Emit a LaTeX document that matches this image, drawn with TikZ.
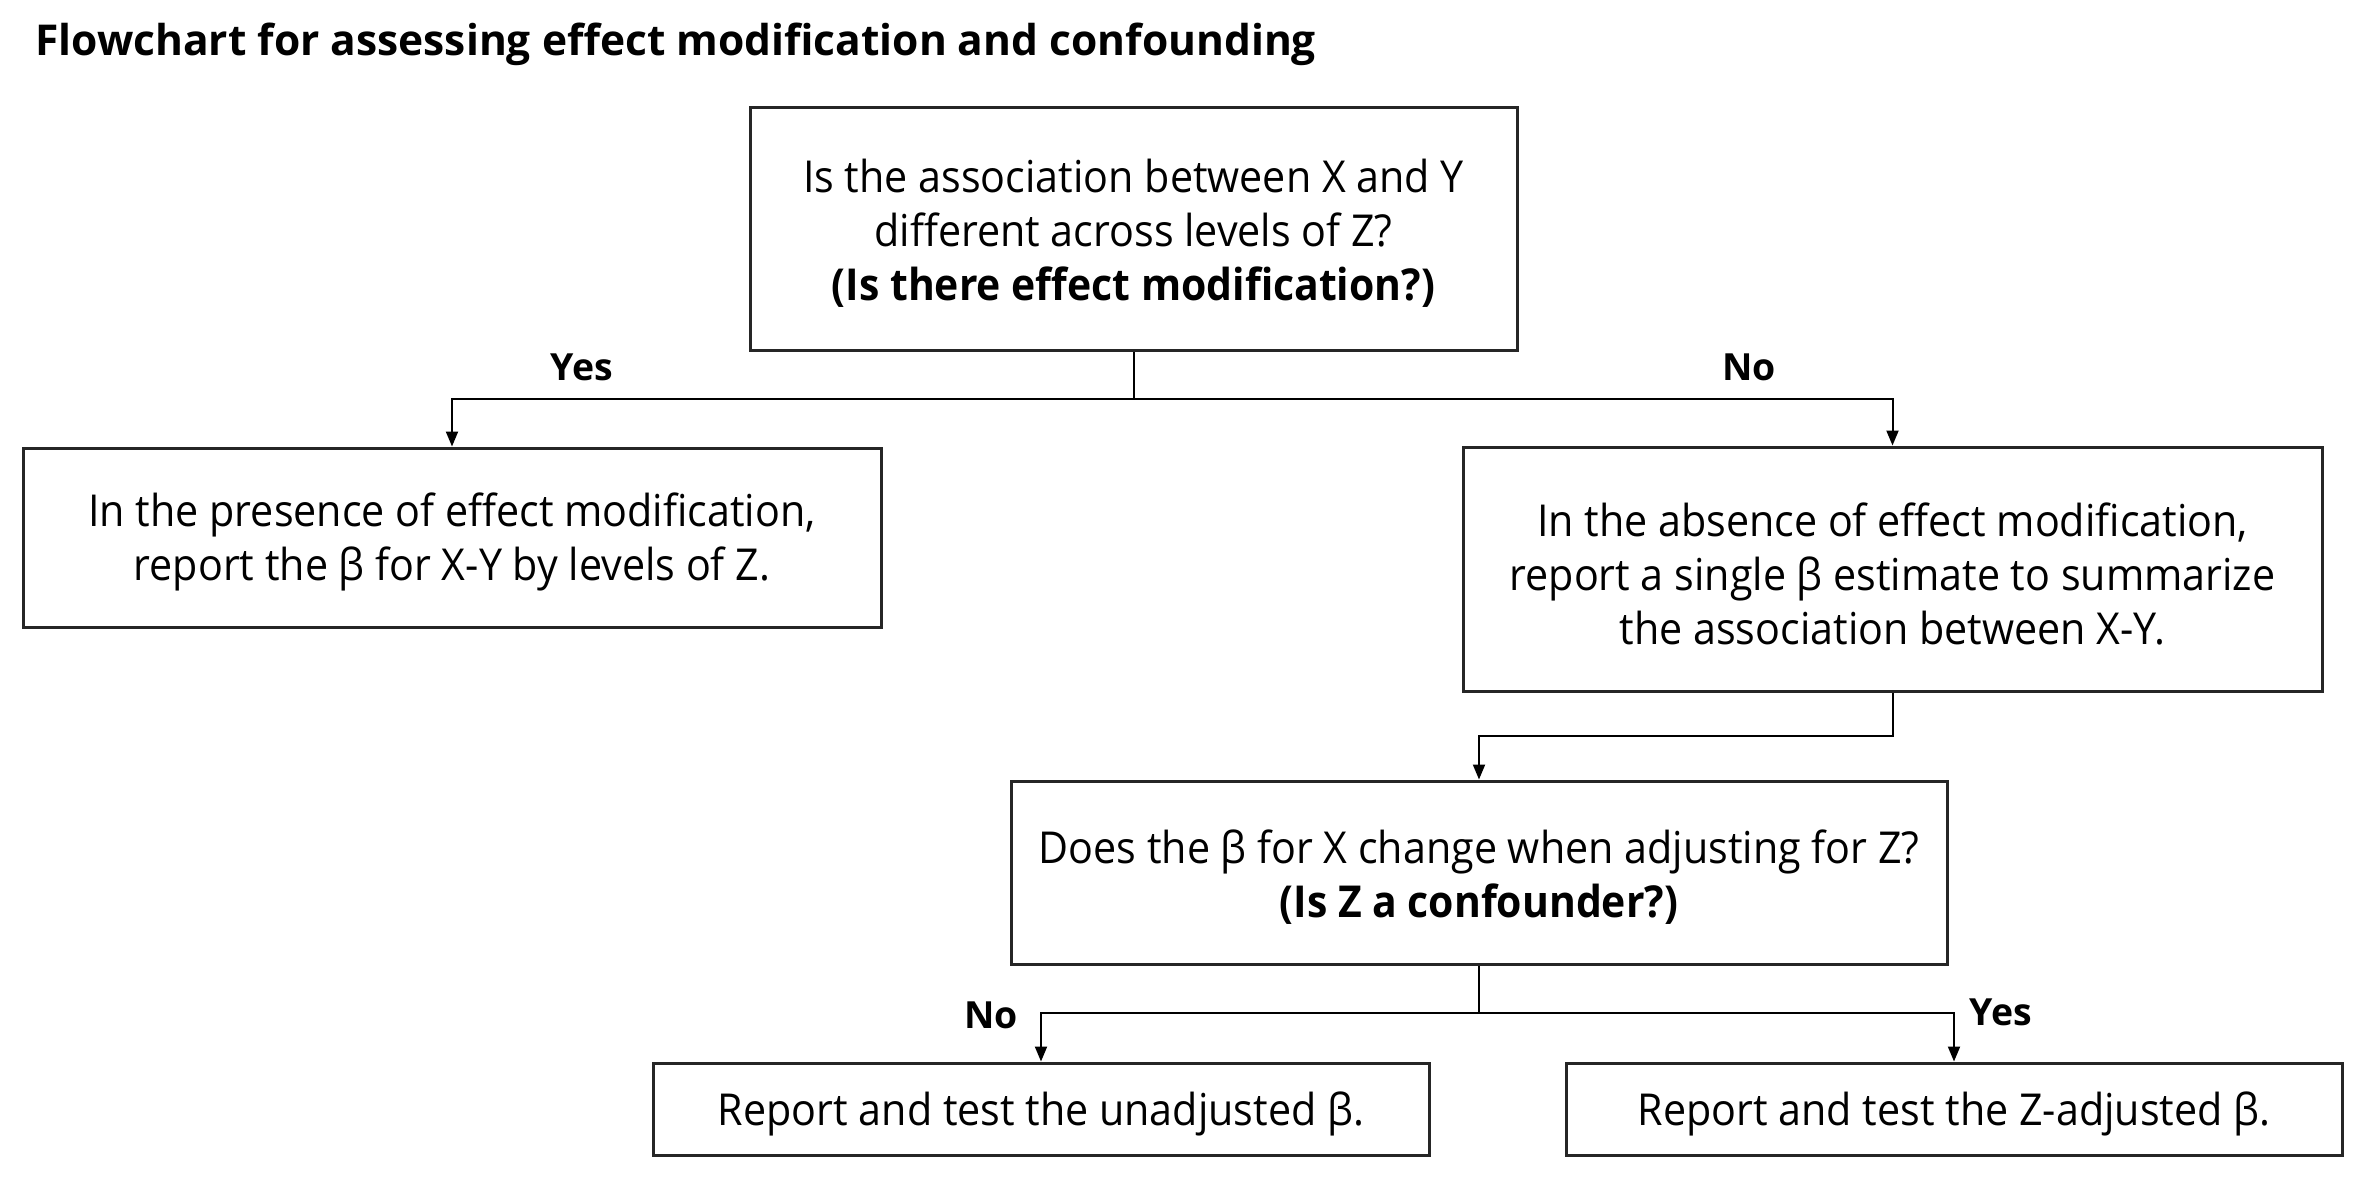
\documentclass[tikz,border=0pt]{standalone}
\usepackage{fontspec}
\setmainfont{Open Sans}[FakeStretch=0.937, BoldFeatures={FakeStretch=0.93}]
\newfontfamily\plainfont{Open Sans}
\usetikzlibrary{arrows.meta}
\begin{document}
\begin{tikzpicture}[x=0.5pt,y=-0.5pt,
  box/.style={draw=black!85, line width=1.5pt, inner sep=0pt},
  txt/.style={align=center, inner sep=0pt, yshift=-2.25pt,
    font=\fontsize{22}{27}\selectfont},
  conn/.style={line width=1pt, -{Triangle[length=7.5pt,width=6pt]}},
  lbl/.style={font=\plainfont\bfseries\fontsize{18.7}{22}\selectfont, inner sep=0pt},
  ttl/.style={font=\plainfont\bfseries\fontsize{21.25}{25}\selectfont, inner sep=0pt}]
\useasboundingbox (0,0) rectangle (2367,1201);
\node[ttl, anchor=base west] (title) at (35,55) {Flowchart for assessing effect modification and confounding};
\node[box, minimum width=383.5pt, minimum height=121.5pt,
  label={[txt]center:{Is the association between X and Y\\ different across levels of Z?\\ \textbf{(Is there effect modification?)}}}] (top) at (1133.5,228.5) {};
\node[box, minimum width=429pt, minimum height=89.5pt,
  label={[txt]center:{In the presence of effect modification,\\ report the β for X-Y by levels of Z.}}] (left) at (452,537.5) {};
\node[box, minimum width=429.5pt, minimum height=122pt,
  label={[txt]center:{In the absence of effect modification,\\ report a single β estimate to summarize\\ the association between X-Y.}}] (right) at (1892.5,569) {};
\node[box, minimum width=468pt, minimum height=91.5pt,
  label={[txt]center:{Does the β for X change when adjusting for Z?\\ \textbf{(Is Z a confounder?)}}}] (mid) at (1479,872.5) {};
\node[box, minimum width=388pt, minimum height=46pt,
  label={[txt]center:{Report and test the unadjusted β.}}] (bl) at (1041,1109) {};
\node[box, minimum width=388pt, minimum height=46pt,
  label={[txt]center:{Report and test the Z-adjusted β.}}] (br) at (1954,1109) {};
\coordinate (j1) at (1133.5,399);
\coordinate (j2) at (1892.5,736);
\coordinate (j3) at (1479,1013);
\draw[conn] (top.south) -- (j1) -| (left.north);
\draw[conn] (j1) -| (right.north);
\draw[conn] (right.south) -- (j2) -| (mid.north);
\draw[conn] (mid.south) -- (j3) -| (bl.north);
\draw[conn] (j3) -| (br.north);
\node[lbl] (l1) at (582,367) {Yes};
\node[lbl] (l2) at (1749,367) {No};
\node[lbl] (l3) at (991,1015) {No};
\node[lbl] (l4) at (2001,1012) {Yes};
\end{tikzpicture}
\end{document}
